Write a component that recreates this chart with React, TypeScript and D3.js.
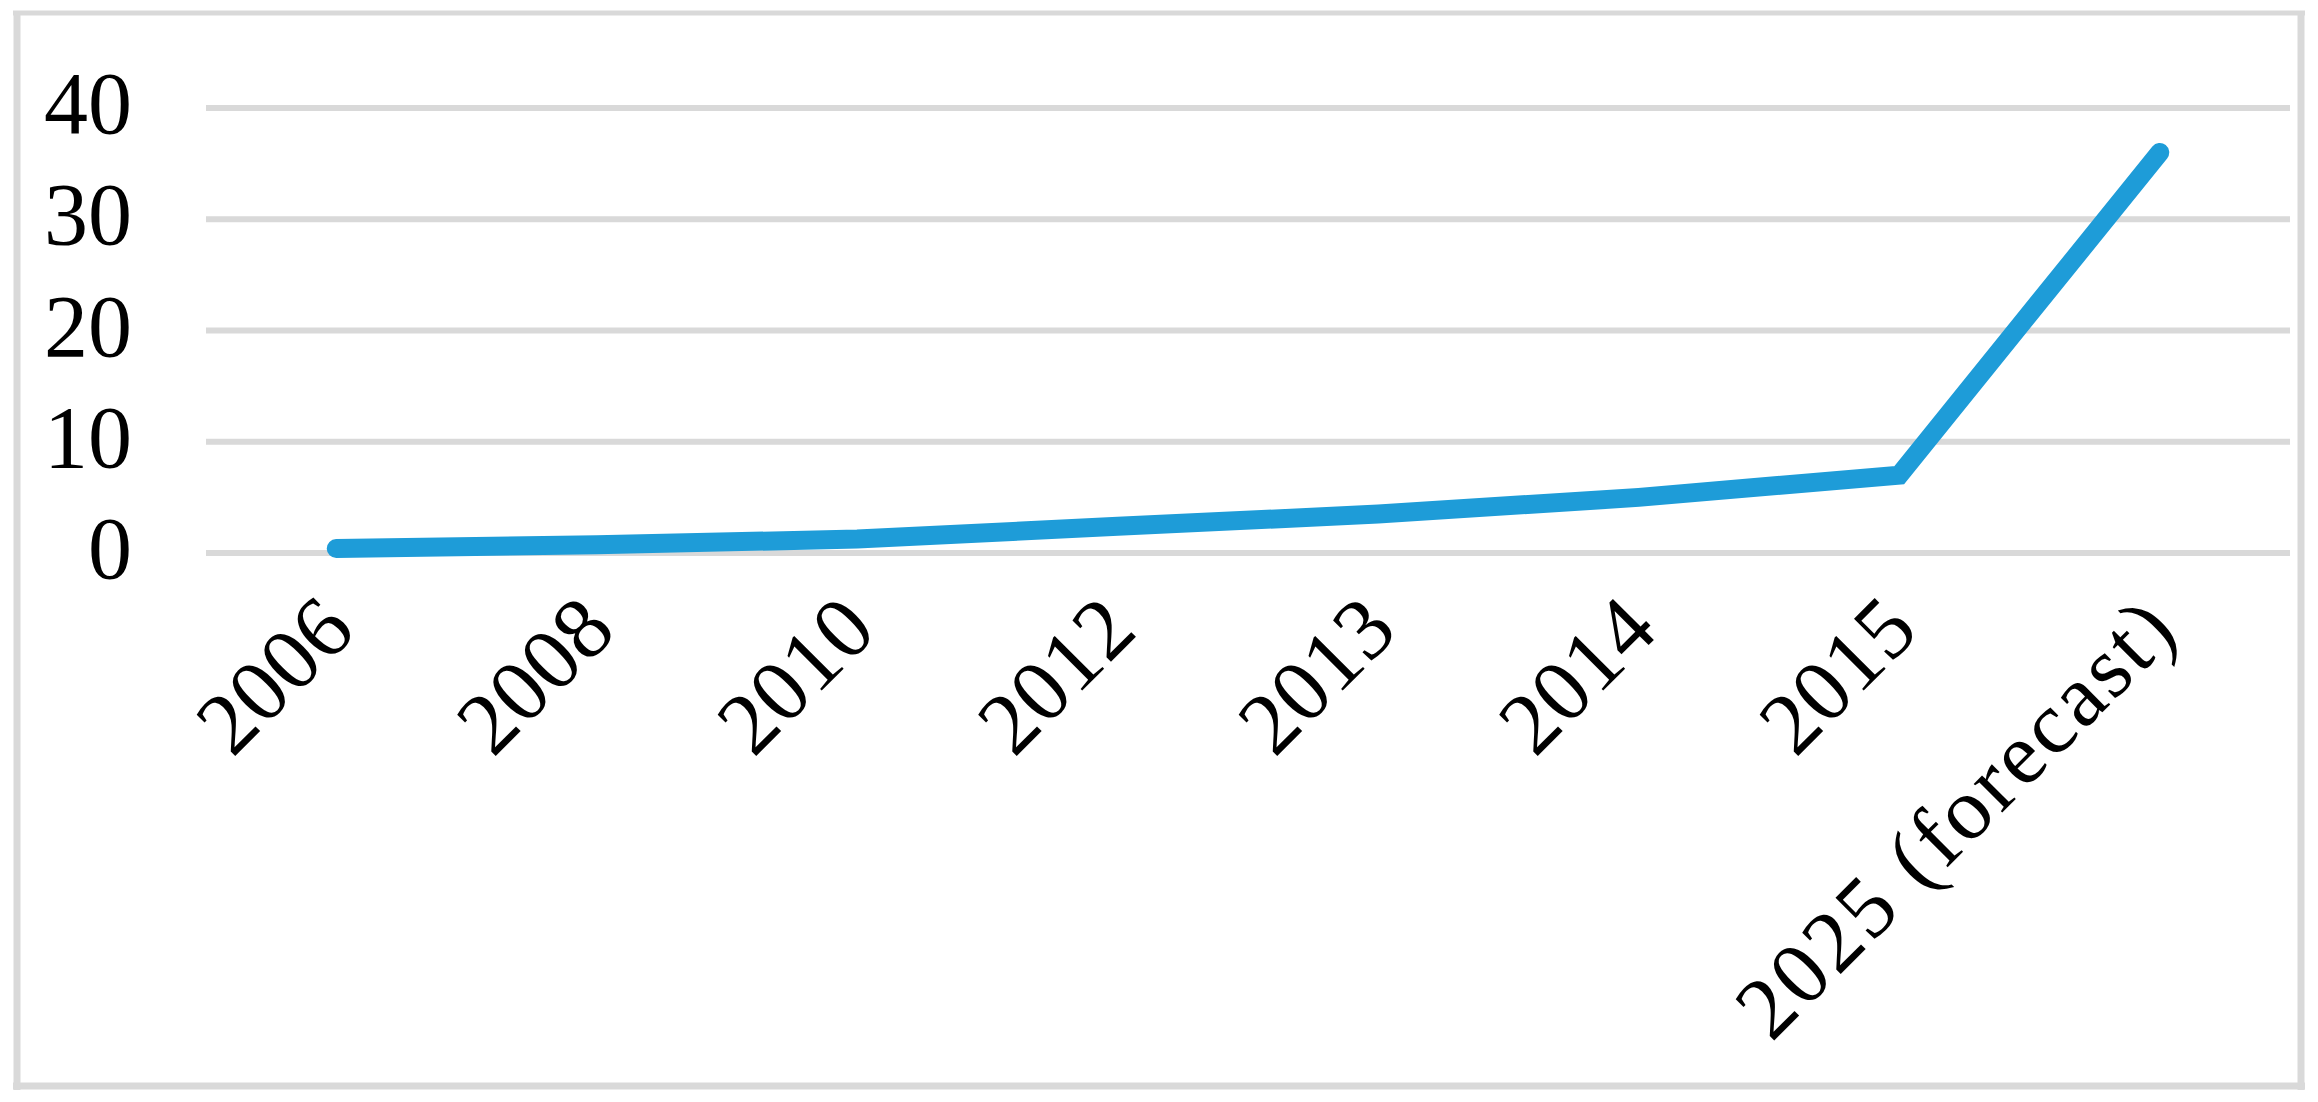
import React from "react";
import * as d3 from "d3";

const categories: string[] = ["2006", "2008", "2010", "2012", "2013", "2014", "2015", "2025 (forecast)"];
const values: number[] = [0.4, 0.75, 1.25, 2.4, 3.5, 5.0, 7.0, 36.0];
const yTicks: number[] = [0, 10, 20, 30, 40];

const W = 2318;
const H = 1102;
const FONT = "'Liberation Serif', 'Times New Roman', serif";

export default function App() {
  const x = d3.scalePoint<string>().domain(categories).range([206, 2290]).padding(0.5);
  const y = d3.scaleLinear().domain([0, 40]).range([553, 108]);
  const line = d3
    .line<number>()
    .x((_, i) => x(categories[i]) as number)
    .y((d) => y(d));

  return (
    <svg
      width={W}
      height={H}
      viewBox={`0 0 ${W} ${H}`}
      style={{ position: "absolute", left: 0, top: 0, background: "#fff" }}
    >
      <rect x={0} y={0} width={W} height={H} fill="#fff" />
      {/* chart border */}
      <line x1={17} x2={17} y1={11} y2={1090} stroke="#d9d9d9" strokeWidth={7} />
      <line x1={13} x2={2305} y1={13} y2={13} stroke="#d9d9d9" strokeWidth={5} />
      <line x1={2301} x2={2301} y1={11} y2={1090} stroke="#d9d9d9" strokeWidth={7} />
      <line x1={13} x2={2305} y1={1086} y2={1086} stroke="#d9d9d9" strokeWidth={7} />

      {/* gridlines */}
      {yTicks.map((t) => (
        <line key={"g" + t} x1={206} x2={2290} y1={y(t)} y2={y(t)} stroke="#d9d9d9" strokeWidth={6} />
      ))}

      {/* y labels */}
      {yTicks.map((t) => (
        <text
          key={"yl" + t}
          x={132}
          y={y(t) + 25}
          textAnchor="end"
          fontFamily={FONT}
          fontSize={88}
          fill="#000"
        >
          {t}
        </text>
      ))}

      {/* x labels */}
      {categories.map((c) => {
        const ax = (x(c) as number) + 22;
        const ay = 633;
        const hasLetters = /[a-z]/i.test(c);
        return (
          <text
            key={"xl" + c}
            x={ax}
            y={ay}
            textAnchor="end"
            fontFamily={FONT}
            fontSize={88}
            letterSpacing={hasLetters ? 3 : 0.5}
            fill="#000"
            transform={`rotate(-45 ${ax} ${ay})`}
          >
            {c}
          </text>
        );
      })}

      {/* data line */}
      <path
        d={line(values) ?? ""}
        fill="none"
        stroke="#1e9cd8"
        strokeWidth={19}
        strokeLinecap="round"
        strokeLinejoin="miter"
      />
    </svg>
  );
}
